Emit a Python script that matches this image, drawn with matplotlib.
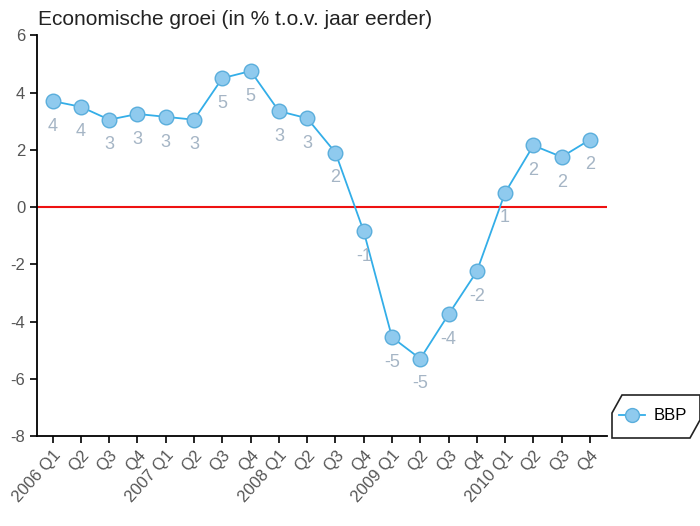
import matplotlib.pyplot as plt
from matplotlib.patches import Polygon
from matplotlib.lines import Line2D

plt.rcParams['font.family'] = ['Liberation Sans', 'DejaVu Sans']
plt.rcParams['axes.unicode_minus'] = False

quarters = ["2006 Q1", "Q2", "Q3", "Q4", "2007 Q1", "Q2", "Q3", "Q4",
            "2008 Q1", "Q2", "Q3", "Q4", "2009 Q1", "Q2", "Q3", "Q4",
            "2010 Q1", "Q2", "Q3", "Q4"]
bbp = [3.7, 3.5, 3.05, 3.25, 3.15, 3.05, 4.5, 4.75, 3.35, 3.1, 1.9, -0.85,
       -4.55, -5.3, -3.75, -2.25, 0.5, 2.15, 1.75, 2.35]
labels = ["4", "4", "3", "3", "3", "3", "5", "5", "3", "3", "2", "-1",
          "-5", "-5", "-4", "-2", "1", "2", "2", "2"]

fig = plt.figure(figsize=(7, 5.26), dpi=100)
ax = fig.add_axes([0.053, 0.171, 0.814, 0.762])

x = list(range(len(quarters)))
ax.axhline(0, color="#ee1111", linewidth=1.5, zorder=1)
ax.plot(x, bbp, color="#33aee8", linewidth=1.3, marker="o", markersize=10.5,
        markerfacecolor="#8fcaee", markeredgecolor="#5aaedc", markeredgewidth=1, zorder=3)
for xi, yi, lab in zip(x, bbp, labels):
    ax.annotate(lab, (xi, yi), xytext=(0, -12), textcoords="offset points",
                ha="center", va="top", fontsize=13, color="#a5b5c5")

ax.set_xlim(-0.55, 19.6)
ax.set_ylim(-8, 6)
ax.set_yticks(range(-8, 7, 2))
ax.set_xticks(x)
ax.set_xticklabels(quarters, rotation=48, ha="right", rotation_mode="anchor")
ax.tick_params(axis="both", labelsize=12, labelcolor="#555555", length=5, width=1.2)
for s in ["top", "right"]:
    ax.spines[s].set_visible(False)
for s in ["left", "bottom"]:
    ax.spines[s].set_linewidth(1.3)

fig.text(0.055, 0.962, "Economische groei (in % t.o.v. jaar eerder)", fontsize=15,
         color="#222222", va="center", ha="left")

# legend box with cut corners
W, H = 700.0, 526.0
pts = [(622, 395), (700, 395), (700, 420), (690, 438), (612, 438), (612, 413)]
poly = Polygon([(px / W, 1 - py / H) for px, py in pts], closed=True,
               transform=fig.transFigure, facecolor="white", edgecolor="#222222",
               linewidth=1.2)
fig.patches.append(poly)
handle = Line2D([0], [0], color="#33aee8", linewidth=1.3, marker="o", markersize=10,
                markerfacecolor="#8fcaee", markeredgecolor="#5aaedc")
fig.legend([handle], ["BBP"], loc="center left", bbox_to_anchor=(612 / W, 1 - 416 / H),
           frameon=False, fontsize=12, handlelength=1.6, handletextpad=0.5,
           borderaxespad=0)

fig.savefig("out.png", dpi=100)
